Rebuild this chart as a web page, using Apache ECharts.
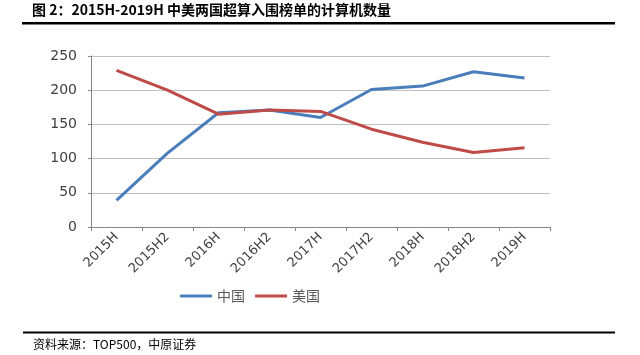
<!DOCTYPE html>
<html>
<head>
<meta charset="utf-8">
<script src="https://cdn.jsdelivr.net/npm/echarts@6/dist/echarts.min.js"></script>
<style>
  html, body { margin: 0; padding: 0; background: #fff; }
  #main { width: 640px; height: 355px; }
</style>
</head>
<body>
<div id="main"></div>
<script>
// 半年度榜单
var categories = ['2015H', '2015H2', '2016H', '2016H2', '2017H', '2017H2', '2018H', '2018H2', '2019H'];
// 中国入围数量
var chinaValues = [39, 108, 167, 171, 160, 201, 206, 227, 218];
// 美国入围数量
var usaValues = [229, 200, 165, 171, 169, 143, 124, 109, 116];
var yTicks = [0, 50, 100, 150, 200, 250];

var myChart = echarts.init(document.getElementById('main'));
var option = {
  backgroundColor: '#fff',
  animation: false,
  graphic: [
    {
      type: 'text', left: 32, top: 3,
      style: {
        text: '图 2：2015H-2019H 中美两国超算入围榜单的计算机数量',
        font: 'bold 14px "Noto Sans CJK SC"', fill: '#000'
      }
    },
    { type: 'rect', shape: { x: 22, y: 22, width: 593, height: 2.5 }, style: { fill: '#000' } },
    { type: 'rect', shape: { x: 23, y: 331.5, width: 592, height: 2 }, style: { fill: '#000' } },
    {
      type: 'text', left: 33, top: 338,
      style: {
        text: '资料来源：TOP500，中原证券',
        font: '12px "Noto Sans CJK SC"', fill: '#000'
      }
    }
  ],
  legend: {
    data: ['中国', '美国'],
    left: 175,
    top: 284,
    itemWidth: 32,
    itemHeight: 3,
    itemGap: 10,
    icon: 'rect',
    textStyle: { fontFamily: 'Noto Sans CJK SC', fontSize: 14, color: '#595959' }
  },
  grid: { left: 91, right: 90, top: 56, bottom: 128 },
  xAxis: {
    type: 'category',
    data: categories,
    boundaryGap: true,
    axisLine: { lineStyle: { color: '#868686', width: 1 } },
    axisTick: { show: true, length: 4, lineStyle: { color: '#868686' } },
    axisLabel: {
      rotate: 45, fontSize: 13, color: '#404040', fontFamily: 'DejaVu Sans',
      margin: 8, interval: 0
    }
  },
  yAxis: {
    type: 'value',
    min: 0, max: 250, interval: 50,
    axisLine: { show: true, lineStyle: { color: '#868686', width: 1 } },
    axisTick: { show: true, length: 3, lineStyle: { color: '#868686' } },
    splitLine: { lineStyle: { color: '#bfbfbf', width: 1 } },
    axisLabel: {
      fontSize: 14, color: '#404040', fontFamily: 'DejaVu Sans', margin: 14,
      formatter: function (v) { return yTicks.indexOf(v) >= 0 ? String(v) : ''; }
    }
  },
  series: [
    {
      name: '中国', type: 'line', data: chinaValues,
      symbol: 'none', smooth: false,
      lineStyle: { color: '#4a7ebb', width: 3 },
      itemStyle: { color: '#4a7ebb' }
    },
    {
      name: '美国', type: 'line', data: usaValues,
      symbol: 'none', smooth: false,
      lineStyle: { color: '#be4b48', width: 3 },
      itemStyle: { color: '#be4b48' }
    }
  ]
};
myChart.setOption(option);
</script>
</body>
</html>
